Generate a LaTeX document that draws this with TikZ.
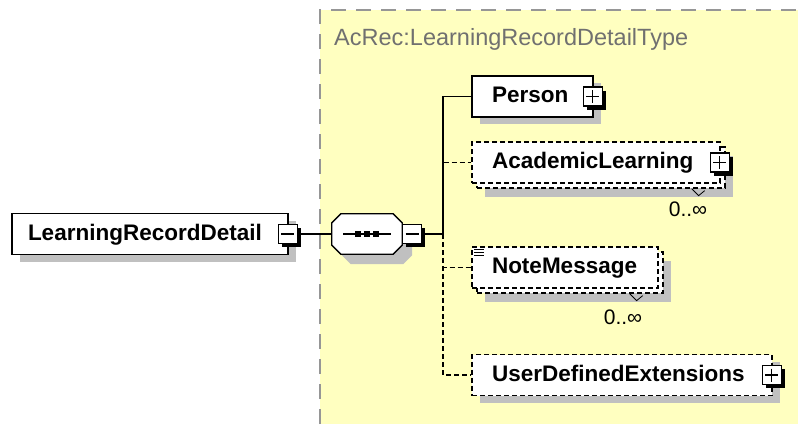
\documentclass[tikz,border=0pt]{standalone}
\usepackage{fontspec}
\setmainfont{Liberation Sans}
\usepackage{tikz}
\usetikzlibrary{positioning, shadows}

\definecolor{typebg}{RGB}{255,255,192}
\definecolor{typeline}{RGB}{150,150,150}
\definecolor{typetext}{RGB}{112,112,112}
\definecolor{shade}{RGB}{192,192,192}

\tikzset{
  box/.style={draw, fill=white, line width=1.3pt, font=\fontsize{22.5}{27}\selectfont\bfseries,
    minimum height=41pt, inner xsep=20pt, inner ysep=0pt, align=left, text height=16pt, text depth=4pt},
  elem/.style={box, drop shadow={shadow xshift=8pt, shadow yshift=-7pt, fill=shade, opacity=1}},
  optline/.style={dash pattern=on 5pt off 3pt},
  optelem/.style={elem, optline},
  multielem/.style={box, optline,
    drop shadow={shadow xshift=13pt, shadow yshift=-14pt, fill=shade, opacity=1},
    copy shadow={shadow xshift=5pt, shadow yshift=-5pt, draw=black, fill=white, line width=1.3pt, optline}},
  expander/.style={draw, fill=white, line width=1.3pt, minimum size=19pt, inner sep=0pt,
    drop shadow={shadow xshift=3.5pt, shadow yshift=-3.5pt, fill=black, opacity=1}},
  minusbox/.style={expander, path picture={
    \draw[line width=1.5pt] ([xshift=3pt]path picture bounding box.west) -- ([xshift=-3pt]path picture bounding box.east);}},
  plusbox/.style={expander, path picture={
    \draw[line width=1.5pt] ([xshift=3pt]path picture bounding box.west) -- ([xshift=-3pt]path picture bounding box.east)
      ([yshift=-3pt]path picture bounding box.north) -- ([yshift=3pt]path picture bounding box.south);}},
  mult/.style={font=\fontsize{21}{25}\selectfont, inner sep=0pt},
  conn/.style={line width=1.3pt},
  compositor/.style={minimum width=70pt, minimum height=40pt, inner sep=0pt},
}

\begin{document}
\begin{tikzpicture}[x=1pt, y=-1pt]
        \useasboundingbox (0,0) rectangle (798,424);
        % complex type area
        \fill[typebg] (320,10) rectangle (798,424);
        \draw[typeline, line width=2pt, dash pattern=on 15pt off 10pt] (320,424) -- (320,10) -- (798,10);
        \node[anchor=base west, text=typetext, font=\fontsize{23.5}{28}\selectfont, inner sep=0pt] (typename) at (334,45) {AcRec:LearningRecordDetailType};

        \node[elem, text width=244pt, inner xsep=16pt] (lrd) at (150,234) {LearningRecordDetail};
        \node[minusbox] (lrdx) at ([xshift=-1pt]lrd.east) {};

        % sequence
        \node[compositor] (seq) at (367,234) {};
        \draw[conn, fill=white, drop shadow={shadow xshift=10pt, shadow yshift=-10pt, fill=shade, opacity=1}]
          ([xshift=9pt]seq.north west) -- ([xshift=-9pt]seq.north east) -- ([yshift=-9pt]seq.north east)
          -- ([yshift=9pt]seq.south east) -- ([xshift=-9pt]seq.south east) -- ([xshift=9pt]seq.south west)
          -- ([yshift=9pt]seq.south west) -- ([yshift=-9pt]seq.north west) -- cycle;
        \draw[conn] ([xshift=-24pt]seq.center) -- ([xshift=24pt]seq.center);
        \foreach \dx in {-9,0,9}
          \fill ([xshift=\dx pt]seq.center) +(-3pt,-3pt) rectangle +(3pt,3pt);
        \node[minusbox] (seqx) at (412,234) {};
        \coordinate (bus) at (443,234);

        \node[elem, text width=81pt] (person) at (532.5,96.5) {Person};
        \node[plusbox] (personx) at ([xshift=-1pt]person.east) {};

        \node[multielem, text width=208pt] (acad) at (596,162.5) {AcademicLearning};
        \node[plusbox] (acadx) at ([xshift=-1pt]acad.east) {};
        \node[mult] (acadm) at (688,209) {0..∞};
        \draw[line width=0.8pt] ([shift={(-29pt,-5pt)}]acad.south east) -- ++(7pt,-7pt) -- ++(6pt,5pt);

        \node[multielem, text width=146pt] (note) at (565,267.5) {NoteMessage};
        \foreach \dy in {3,6,9}
          \draw[line width=0.8pt] ([shift={(3pt,-\dy pt)}]note.north west) -- ++(10pt,0pt);
        \node[mult] (notem) at (623,317) {0..∞};
        \draw[line width=0.8pt] ([shift={(-29pt,-5pt)}]note.south east) -- ++(7pt,-7pt) -- ++(6pt,5pt);

        \node[optelem, text width=260pt] (ude) at (622,375) {UserDefinedExtensions};
        \node[plusbox] (udex) at ([xshift=-1pt]ude.east) {};

        \draw[conn]
        (lrdx) -- (seq)
        (seqx) -- (bus)
        (bus) |- (person);
        \draw[conn, optline]
        (bus) |- (acad)
        (bus) |- (note)
        (bus) |- (ude);
    \end{tikzpicture}
\end{document}
